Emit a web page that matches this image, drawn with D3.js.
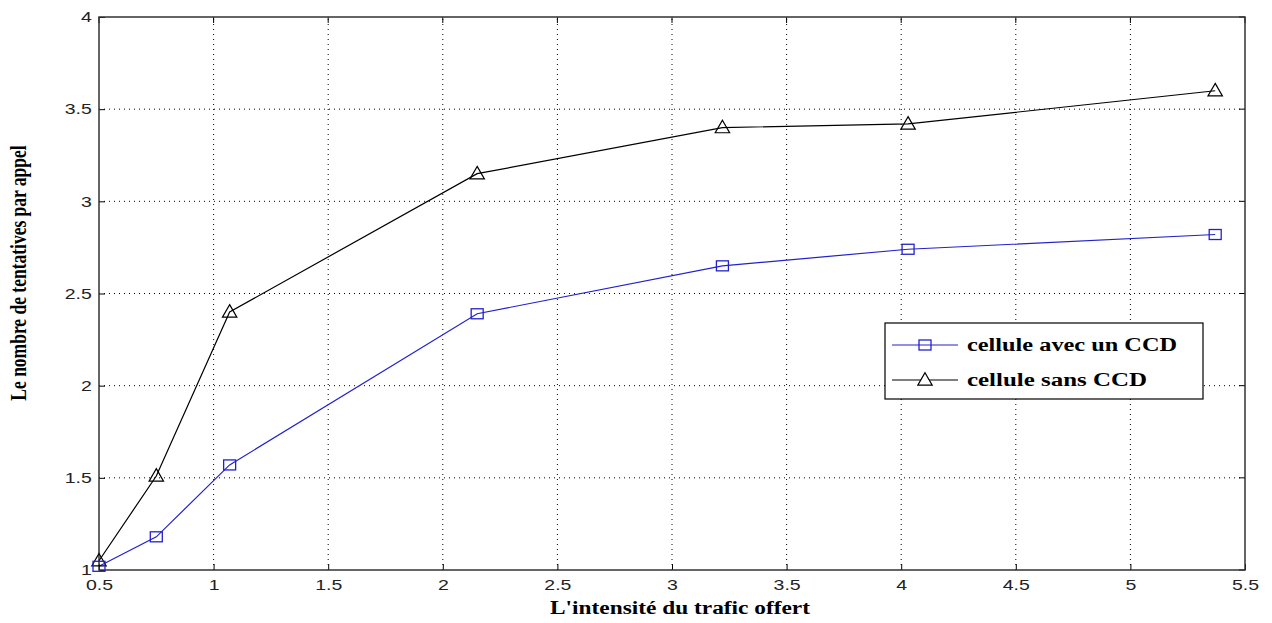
<!DOCTYPE html>
<html>
<head>
<meta charset="utf-8">
<script src="https://cdn.jsdelivr.net/npm/d3@7"></script>
<style>
  body { margin: 0; background: #fff; }
  svg { display: block; }
  .tick text { font-family: "Liberation Sans", Arial, sans-serif; font-size: 15px; fill: #222; }
  .lbl { font-family: "Liberation Serif", "Times New Roman", serif; font-weight: bold; font-size: 18px; fill: #000; }
  .leg { font-family: "Liberation Serif", "Times New Roman", serif; font-weight: bold; font-size: 18px; fill: #000; }
</style>
</head>
<body>
<svg width="1272" height="623"></svg>
<script>
const width = 1272;
const height = 623;

// offered traffic
const trafic = [0.5, 0.75, 1.07, 2.15, 3.22, 4.03, 5.37];
const avecCCD = [1.02, 1.18, 1.57, 2.39, 2.65, 2.74, 2.82];
const sansCCD = [1.05, 1.51, 2.40, 3.15, 3.40, 3.42, 3.60];
const xTicks = [0.5, 1, 1.5, 2, 2.5, 3, 3.5, 4, 4.5, 5, 5.5];
const yTicks = [1, 1.5, 2, 2.5, 3, 3.5, 4];
const seriesNames = ["cellule avec un CCD", "cellule sans CCD"];

const margin = {top: 17, right: 27, bottom: 53, left: 99};
const stretch = 1.3; // the original picture is widened horizontally

const svg = d3.select("svg");

const x = d3.scaleLinear().domain([0.5, 5.5]).range([margin.left, width - margin.right]);
const y = d3.scaleLinear().domain([1, 4]).range([height - margin.bottom, margin.top]);

// grid
const grid = svg.append("g")
  .attr("stroke", "#000")
  .attr("stroke-width", 1)
  .attr("stroke-dasharray", "1,4");

grid.selectAll(".gx")
  .data(xTicks.slice(1, -1))
  .join("line")
    .attr("x1", d => x(d)).attr("x2", d => x(d))
    .attr("y1", y(1)).attr("y2", y(4));

grid.selectAll(".gy")
  .data(yTicks.slice(1, -1))
  .join("line")
    .attr("x1", x(0.5)).attr("x2", x(5.5))
    .attr("y1", d => y(d)).attr("y2", d => y(d));

// axes
const xAxis = d3.axisBottom(x).tickValues(xTicks).tickSize(-6).tickPadding(9).tickFormat(d3.format("~g"));
const yAxis = d3.axisLeft(y).tickValues(yTicks).tickSize(-6).tickPadding(5.5).tickFormat(d3.format("~g"));

svg.append("g")
  .attr("transform", `translate(0,${y(1)})`)
  .call(xAxis)
  .call(g => g.select(".domain").remove())
  .call(g => g.selectAll("line").attr("stroke", "#000"))
  .call(g => g.selectAll("text").attr("transform", `scale(${stretch},1)`));

svg.append("g")
  .attr("transform", `translate(${x(0.5)},0)`)
  .call(yAxis)
  .call(g => g.select(".domain").remove())
  .call(g => g.selectAll("line").attr("stroke", "#000"))
  .call(g => g.selectAll("text").attr("transform", `scale(${stretch},1)`));

// top / right ticks
svg.append("g").selectAll("line")
  .data(xTicks)
  .join("line")
    .attr("x1", d => x(d)).attr("x2", d => x(d))
    .attr("y1", y(4)).attr("y2", y(4) + 6)
    .attr("stroke", "#000");

svg.append("g").selectAll("line")
  .data(yTicks)
  .join("line")
    .attr("x1", x(5.5)).attr("x2", x(5.5) - 6)
    .attr("y1", d => y(d)).attr("y2", d => y(d))
    .attr("stroke", "#000");

// frame
svg.append("rect")
  .attr("x", x(0.5)).attr("y", y(4))
  .attr("width", x(5.5) - x(0.5)).attr("height", y(1) - y(4))
  .attr("fill", "none")
  .attr("stroke", "#333")
  .attr("stroke-width", 1.5);

// lines
const line = d3.line().x(d => x(d[0])).y(d => y(d[1]));

const blue = "#2222cc";
const dataAvec = trafic.map((t, i) => [t, avecCCD[i]]);
const dataSans = trafic.map((t, i) => [t, sansCCD[i]]);

svg.append("path")
  .datum(dataSans)
  .attr("d", line)
  .attr("fill", "none")
  .attr("stroke", "#000")
  .attr("stroke-width", 1.2);

svg.append("path")
  .datum(dataAvec)
  .attr("d", line)
  .attr("fill", "none")
  .attr("stroke", blue)
  .attr("stroke-width", 1.2);

const tri = d3.symbol().type(d3.symbolTriangle).size(90);

svg.append("g").selectAll("path")
  .data(dataSans)
  .join("path")
    .attr("d", tri)
    .attr("transform", d => `translate(${x(d[0])},${y(d[1]) + 1})`)
    .attr("fill", "none")
    .attr("stroke", "#000")
    .attr("stroke-width", 1.2);

svg.append("g").selectAll("rect")
  .data(dataAvec)
  .join("rect")
    .attr("x", d => x(d[0]) - 6)
    .attr("y", d => y(d[1]) - 5)
    .attr("width", 12)
    .attr("height", 10)
    .attr("fill", "none")
    .attr("stroke", blue)
    .attr("stroke-width", 1.3);

// legend
const legend = svg.append("g").attr("transform", "translate(885,323)");

legend.append("rect")
  .attr("width", 318).attr("height", 76)
  .attr("fill", "#fff")
  .attr("stroke", "#000")
  .attr("stroke-width", 1.2);

const legItems = legend.selectAll(".item")
  .data(seriesNames)
  .join("g")
    .attr("transform", (d, i) => `translate(0,${22 + i * 35})`);

legItems.append("line")
  .attr("x1", 7).attr("x2", 73)
  .attr("stroke", (d, i) => i === 0 ? blue : "#000")
  .attr("stroke-width", 1.2);

legItems.filter((d, i) => i === 0).append("rect")
  .attr("x", 34).attr("y", -5).attr("width", 12).attr("height", 10)
  .attr("fill", "none").attr("stroke", blue).attr("stroke-width", 1.3);

legItems.filter((d, i) => i === 1).append("path")
  .attr("d", tri)
  .attr("transform", "translate(40,1)")
  .attr("fill", "#fff").attr("stroke", "#000").attr("stroke-width", 1.2);

legItems.append("text")
  .attr("class", "leg")
  .attr("x", 82)
  .attr("dy", "0.35em")
  .attr("textLength", (d, i) => i === 0 ? 210 : 180)
  .attr("lengthAdjust", "spacingAndGlyphs")
  .text(d => d);

// axis labels
svg.append("text")
  .attr("class", "lbl")
  .attr("x", 680)
  .attr("y", 614)
  .attr("text-anchor", "middle")
  .attr("textLength", 260)
  .attr("lengthAdjust", "spacingAndGlyphs")
  .text("L'intensité du trafic offert");

svg.append("text")
  .attr("class", "lbl")
  .style("font-size", "17.5px")
  .attr("transform", `translate(26,273) scale(${stretch},1) rotate(-90)`)
  .attr("text-anchor", "middle")
  .text("Le nombre de tentatives par appel");
</script>
</body>
</html>
